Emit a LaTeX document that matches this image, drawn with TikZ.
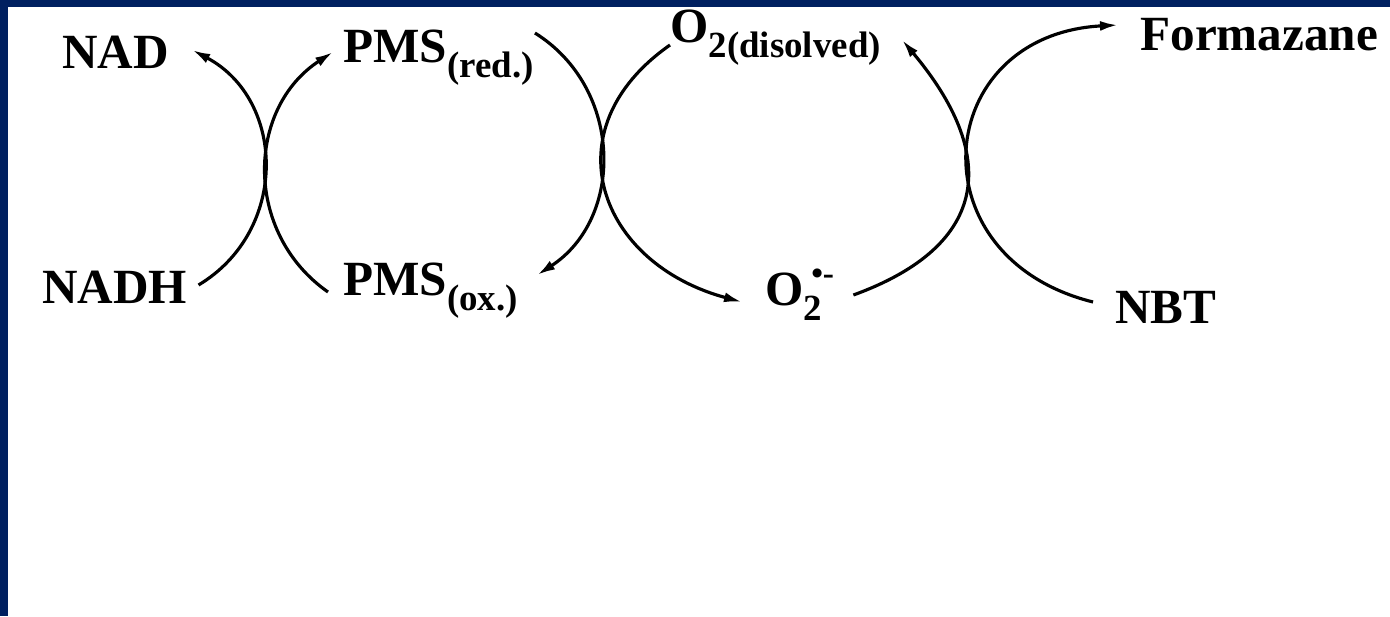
\documentclass[tikz,border=0pt]{standalone}
\usepackage{fontspec}
\setmainfont{Liberation Serif}
\usetikzlibrary{arrows.meta}
\definecolor{frameBlue}{RGB}{0,32,96}
\newcommand{\chsub}[1]{\raisebox{-0.32em}{\fontsize{21}{22}\selectfont #1}}
\newcommand{\chsup}[1]{\raisebox{0.42em}{\fontsize{19}{20}\selectfont #1}}
\tikzset{
    chem/.style={inner sep=0pt,anchor=base west,font=\fontsize{28}{34}\selectfont\bfseries},
    arr/.style={-{Latex[length=3.6mm,width=2mm]},line width=1.8pt}
}

\begin{document}
\begin{tikzpicture}[x=0.02cm,y=-0.02cm]
    \useasboundingbox (0,0) rectangle (1390,616);
    \fill[frameBlue] (0,0) rectangle (1390,616);
    \fill[white] (8,7) rectangle (1390,616);

    \node[chem] (nad)    at (62,68)   {NAD};
    \node[chem] (nadh)   at (42,303)  {NADH};
    \node[chem] (pmsred) at (343,62)  {PMS\chsub{(red.)}};
    \node[chem] (pmsox)  at (343,295) {PMS\chsub{(ox.)}};
    \node[chem] (o2dis)  at (670,42)  {O\chsub{2(disolved)}};
    \node[chem] (o2rad)  at (765,305) {O\chsub{2}\hspace{-0.22em}\chsup{\textbullet-}};
    \node[chem] (forma)  at (1140,50) {Formazane};
    \node[chem] (nbt)    at (1115,323) {NBT};

    \draw[arr] ([shift={(11,-18)}]nadh.base east) to[out=31,in=-28,looseness=1.15] ([shift={(23,-18)}]nad.base east);
    \draw[arr] ([shift={(-15,-3)}]pmsox.base west) to[out=145,in=-147,looseness=1.1] ([shift={(-10,-10)}]pmsred.base west);
    \draw[arr] ([shift={(1,-29)}]pmsred.base east) to[out=-32,in=33,looseness=1.1] ([shift={(19,-20)}]pmsox.base east);
    \draw[arr] ([shift={(0,3)}]o2dis.base west) to[out=-145,in=165,looseness=1.42] ([shift={(-23,-3)}]o2rad.base west);
    \draw[arr] ([shift={(19,-10)}]o2rad.base east) to[out=20,in=-50,looseness=1.46] ([shift={(21,-2)}]o2dis.base east);
    \draw[arr] ([shift={(-22,-21)}]nbt.base west) to[out=166,in=-177,looseness=1.71] ([shift={(-22,-25)}]forma.base west);
\end{tikzpicture}
\end{document}
